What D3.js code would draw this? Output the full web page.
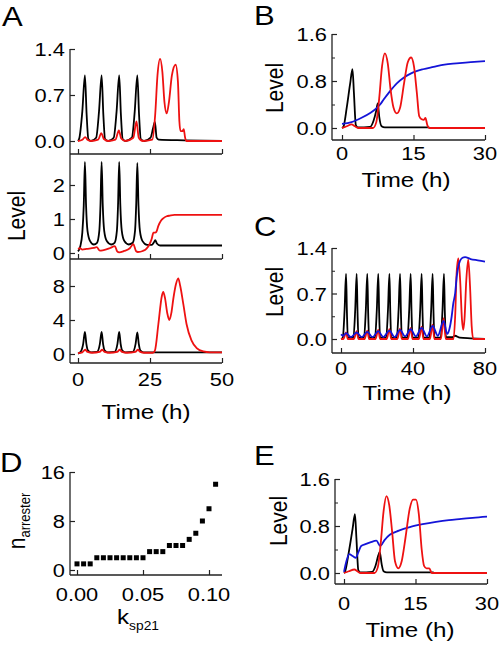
<!DOCTYPE html>
<html><head><meta charset="utf-8">
<script src="https://cdn.jsdelivr.net/npm/d3@7"></script>
<style>body{margin:0;background:#fff} text{font-family:"Liberation Sans",Arial,Helvetica,sans-serif;fill:#000}</style>
</head><body><svg id="c" width="500" height="646"></svg>
<script>
// ---------- DATA ----------
// Panel A (top): time (h), level
const A1_black = [[0,0],[0.5,0.05],[1.5,0.45],[2.4,1.0],[3.0,0.4],[3.6,0.03],[4.5,0],[6.3,0.05],[7.3,0.45],[8.2,1.0],[8.8,0.4],[9.4,0.03],[10.5,0],[12.4,0.05],[13.4,0.45],[14.3,1.0],[14.9,0.4],[15.5,0.03],[16.5,0],[18.7,0.05],[19.7,0.45],[20.6,1.0],[21.2,0.4],[21.8,0.03],[23,0],[25.2,0.05],[26.1,0.2],[26.7,0.29],[27.3,0.05],[28,0.02],[37,0.01],[50,0]];
const A1_red = [[0,0],[1.5,0.02],[2.5,0.06],[3.3,0.02],[4.5,0],[7,0.02],[8.1,0.12],[9,0.03],[10.5,0],[13,0.02],[14.2,0.16],[15,0.04],[16.5,0],[19.2,0.05],[20.3,0.3],[21.1,0.05],[22.5,0],[25.8,0.02],[26.8,0.4],[27.6,1.0],[28.5,1.25],[29.3,1.05],[30,0.6],[30.8,0.42],[31.6,0.6],[32.6,1.0],[33.9,1.16],[34.7,0.9],[35.2,0.3],[35.6,0.15],[36.3,0.15],[36.7,0.18],[37.2,0.05],[37.6,0],[50,0]];
// Panel A (middle)
const A2_black = [[0,0.05],[0.8,0.2],[1.5,0.6],[2.0,1.4],[2.4,2.68],[2.8,1.4],[3.3,0.65],[4.2,0.35],[5.5,0.25],[6.6,0.3],[7.4,0.65],[7.8,1.4],[8.2,2.68],[8.6,1.4],[9.1,0.65],[10,0.35],[11.5,0.25],[12.7,0.3],[13.5,0.65],[13.9,1.4],[14.3,2.68],[14.7,1.4],[15.2,0.65],[16.1,0.35],[17.6,0.25],[19,0.3],[19.8,0.65],[20.2,1.4],[20.6,2.65],[21,1.4],[21.5,0.65],[22.4,0.35],[24,0.24],[25.6,0.24],[26.4,0.32],[26.8,0.38],[27.4,0.28],[28.5,0.22],[50,0.22]];
const A2_red = [[0,0.12],[0.7,0.14],[1.5,0.1],[3,0.12],[5.5,0.15],[6.5,0.17],[7.6,0.07],[8.6,0.08],[11,0.14],[12.8,0.2],[13.6,0.05],[14.3,0.02],[16,0.06],[18,0.14],[19.2,0.26],[20.2,0.05],[20.8,0.03],[22.5,0.06],[23.8,0.13],[24.8,0.25],[25.6,0.42],[26.2,0.6],[26.8,0.6],[27.2,0.62],[27.9,0.8],[28.8,0.95],[29.6,1.02],[30.8,1.08],[31.9,1.1],[33.5,1.12],[35.4,1.12],[50,1.12]];
// Panel A (bottom)
const A3_black = [[0,0.05],[1,0.3],[1.8,1.2],[2.4,2.6],[2.9,1.2],[3.5,0.4],[4.5,0.2],[6.6,0.25],[7.6,1.2],[8.2,2.6],[8.7,1.2],[9.3,0.4],[10.3,0.2],[12.7,0.25],[13.7,1.2],[14.3,2.6],[14.8,1.2],[15.4,0.4],[16.4,0.2],[19,0.25],[20,1.2],[20.6,2.55],[21.1,1.2],[21.7,0.4],[22.7,0.2],[26,0.2],[50,0.2]];
const A3_red = [[0,0.1],[1.5,0.2],[2.5,0.5],[3.3,0.25],[5,0.15],[7.5,0.25],[8.4,0.5],[9.2,0.25],[11,0.15],[13.6,0.25],[14.5,0.5],[15.3,0.25],[17,0.15],[19.9,0.25],[20.8,0.5],[21.6,0.25],[23,0.15],[26,0.15],[26.7,0.4],[27.9,3.5],[29.1,6.8],[29.6,7.3],[30.2,6.6],[31,4.8],[31.7,4.0],[32.4,4.8],[33.1,6.5],[34,8.2],[34.8,8.9],[35.5,8.0],[36.6,5.8],[37.7,3.5],[39.4,1.6],[41.2,0.7],[43.5,0.3],[45.8,0.2],[50,0.2]];
// Panel B
const B_black = [[0,0],[0.3,0.02],[1.0,0.35],[1.7,0.75],[2.2,1.0],[2.5,0.6],[2.9,0.05],[3.3,0.01],[5.9,0.02],[6.6,0.12],[7.2,0.3],[7.5,0.42],[7.8,0.2],[8.3,0.03],[9,0.01],[18.2,0.01],[18.5,0],[30,0]];
const B_red = [[0,0],[1,0.03],[2,0.06],[2.7,0.03],[3.5,0],[6.5,0],[7.2,0.1],[7.8,0.5],[8.4,1.05],[9,1.27],[9.6,1.1],[10.2,0.65],[10.8,0.35],[11.5,0.25],[12.2,0.35],[13,0.75],[13.8,1.12],[14.5,1.2],[15.1,1.05],[15.7,0.6],[16.2,0.2],[16.7,0.15],[17.2,0.14],[17.5,0.17],[17.9,0.05],[18.3,0],[30,0]];
const B_blue = [[0,0.07],[2,0.1],[4,0.17],[6,0.26],[7,0.32],[8,0.4],[8.7,0.48],[10,0.62],[11.5,0.76],[13,0.86],[14.5,0.93],[17,1.0],[19.2,1.04],[21.5,1.08],[24,1.1],[27,1.12],[30,1.14]];
// Panel C
const C_black = [[0,0],[1.0,0.02],[2.0,0.45],[2.8,1.0],[3.3,0.4],[3.8,0.02],[6.9,0.02],[7.9,0.45],[8.7,1.0],[9.2,0.4],[9.7,0.02],[12.8,0.02],[13.8,0.45],[14.6,1.0],[15.1,0.4],[15.6,0.02],[18.9,0.02],[19.9,0.45],[20.7,1.0],[21.2,0.4],[21.7,0.02],[25.1,0.02],[26.1,0.45],[26.9,1.0],[27.4,0.4],[27.9,0.02],[31,0.02],[32,0.45],[32.8,1.0],[33.3,0.4],[33.8,0.02],[36.9,0.02],[37.9,0.45],[38.7,1.0],[39.2,0.4],[39.7,0.02],[43,0.02],[44,0.45],[44.8,1.0],[45.3,0.4],[45.8,0.02],[49.1,0.02],[50.1,0.45],[50.9,1.0],[51.4,0.4],[51.9,0.02],[55.4,0.02],[56.4,0.45],[57.2,1.0],[57.7,0.4],[58.3,0.03],[62,0.03],[63.3,0.05],[66,0.02],[72,0.01],[80,0]];
const C_red = [[0,0],[1.3,0],[2.8,0.1],[3.8,0],[7.2,0],[8.7,0.12],[9.7,0],[13.1,0],[14.6,0.13],[15.6,0],[19.2,0],[20.7,0.14],[21.7,0],[25.4,0],[26.9,0.15],[27.9,0],[31.3,0],[32.8,0.16],[33.8,0],[37.2,0],[38.7,0.17],[39.7,0],[43.3,0],[44.8,0.19],[45.8,0],[49.4,0],[50.9,0.22],[51.9,0],[55.5,0],[57,0.32],[58.2,0],[62.5,0],[63.5,0.4],[64.2,1.0],[65.2,1.24],[66.2,0.9],[67.2,0.3],[67.9,0.14],[68.6,0.3],[69.6,0.9],[70.7,1.22],[71.7,0.8],[72.6,0.2],[73.5,0],[80,0]];
const C_blue = [[0,0.07],[1.2,0.05],[2.8,0.09],[5.5,0.03],[8.7,0.1],[11.5,0.03],[14.6,0.11],[17.5,0.03],[20.7,0.12],[23.5,0.03],[26.9,0.13],[29.8,0.03],[32.8,0.14],[35.6,0.04],[38.7,0.15],[41.6,0.04],[44.8,0.17],[47.7,0.04],[50.9,0.2],[53.8,0.05],[57,0.28],[59,0.08],[60.2,0.15],[61.5,0.35],[62.4,0.55],[63.4,0.7],[64.3,0.96],[65.2,1.12],[66.1,1.2],[67.5,1.25],[68.9,1.26],[72,1.23],[76,1.21],[80,1.19]];
// Panel D
const D_k = [0,0.005,0.01,0.015,0.02,0.025,0.03,0.035,0.04,0.045,0.05,0.055,0.06,0.065,0.07,0.075,0.08,0.085,0.09,0.095,0.1,0.105];
const D_n = [1,1,1,2,2,2,2,2,2,2,2,3,3,3,4,4,4,5,6,8,10,14];
// Panel E
const E_black = [[0,0],[0.2,0.02],[1.0,0.35],[1.8,0.75],[2.3,1.0],[2.6,0.6],[3.0,0.05],[3.4,0.01],[5.9,0.02],[6.6,0.12],[7.2,0.3],[7.5,0.36],[7.9,0.15],[8.3,0.03],[9,0.01],[18.7,0.01],[19,0],[30,0]];
const E_red = [[0,0],[1,0.03],[2.2,0.06],[2.8,0.03],[3.5,0],[6.4,0],[7.1,0.1],[7.7,0.5],[8.3,1.05],[8.9,1.31],[9.5,1.15],[10.1,0.7],[10.7,0.2],[11.4,0.08],[12.1,0.2],[12.9,0.6],[13.8,1.1],[14.5,1.25],[15.1,1.25],[15.7,1.0],[16.3,0.4],[16.8,0.12],[17.3,0.08],[17.9,0.08],[18.4,0],[30,0]];
const E_blue = [[0,0.02],[0.5,0.2],[1.1,0.32],[1.8,0.29],[2.5,0.26],[3.0,0.35],[3.6,0.46],[4.5,0.49],[5.5,0.52],[6.8,0.55],[7.6,0.46],[8.5,0.56],[9.6,0.65],[11.5,0.72],[13.8,0.78],[16.5,0.83],[19.3,0.87],[22,0.9],[24.6,0.92],[27,0.94],[30,0.96]];

// tick labels
const A1_yticks = [0, 0.7, 1.4];
const A2_yticks = [0, 1, 2];
const A3_yticks = [0, 4, 8];
const A_xticks = [0, 25, 50];
const B_yticks = [0, 0.8, 1.6];
const B_xticks = [0, 15, 30];
const C_yticks = [0, 0.7, 1.4];
const C_xticks = [0, 40, 80];
const D_yticks = [0, 8, 16];
const D_xticks = [0, 0.05, 0.10];
const E_yticks = [0, 0.8, 1.6];
const E_xticks = [0, 15, 30];

// ---------- DRAWING ----------
const SX = 1.15;
const COL = {black:'#000', red:'#ee1111', blue:'#1414d8'};
const svg = d3.select('#c');

function txt(x, y, s, size, anchor, rot) {
  return svg.append('text')
    .attr('transform', `translate(${x},${y}) scale(${SX},1)` + (rot ? ` rotate(${rot})` : ''))
    .attr('text-anchor', anchor || 'middle').attr('font-size', size).text(s);
}

function panel(o) {
  const x = d3.scaleLinear().domain(o.xd).range([o.xr0, o.xr1]);
  const y = d3.scaleLinear().domain([0, o.ymax]).range([o.y0, o.ytop]);
  const g = svg.append('g');
  const ac = '#222';
  // axis lines
  g.append('line').attr('x1', o.ax).attr('x2', o.ax).attr('y1', o.axTop).attr('y2', o.axBot).attr('stroke', ac).attr('stroke-width', 1.3);
  g.append('line').attr('x1', o.ax).attr('x2', o.xEnd).attr('y1', o.axBot).attr('y2', o.axBot).attr('stroke', ac).attr('stroke-width', 1.3);
  // y ticks (inward)
  const ya = g.append('g').attr('transform', `translate(${o.ax},0)`)
    .call(d3.axisRight(y).tickValues(o.yticks).tickSize(5).tickFormat(''));
  ya.select('.domain').remove();
  ya.selectAll('line').attr('stroke', ac).attr('stroke-width', 1.2);
  if (o.yminor) {
    const ym = g.append('g').attr('transform', `translate(${o.ax},0)`)
      .call(d3.axisRight(y).tickValues(o.yminor).tickSize(3).tickFormat(''));
    ym.select('.domain').remove();
    ym.selectAll('line').attr('stroke', ac).attr('stroke-width', 1);
  }
  // x ticks (inward)
  const xa = g.append('g').attr('transform', `translate(0,${o.axBot})`)
    .call(d3.axisTop(x).tickValues(o.xticks).tickSize(5).tickFormat(''));
  xa.select('.domain').remove();
  xa.selectAll('line').attr('stroke', ac).attr('stroke-width', 1.2);
  // labels
  o.yticks.forEach(v => txt(o.ax - 5, y(v) + 7, o.yfmt(v), 19, 'end'));
  if (o.xlab) o.xticks.forEach(v => txt(x(v), o.xlabY, o.xfmt(v), 19, 'middle'));
  // series
  const line = d3.line().x(d => x(d[0])).y(d => y(d[1])).curve(d3.curveMonotoneX);
  (o.series || []).forEach(s => {
    g.append('path').datum(s.data).attr('d', line).attr('fill', 'none')
      .attr('stroke', COL[s.c]).attr('stroke-width', 1.8).attr('stroke-linejoin', 'round');
  });
  return {x, y, g};
}

const f1 = d3.format('.1f'), f0 = d3.format('d'), f2 = d3.format('.2f');

// Panel A
panel({xd:[0,50], xr0:78, xr1:222, ax:70, xEnd:222, ymax:1.4, y0:141, ytop:49, axTop:49, axBot:154,
  yticks:A1_yticks, xticks:A_xticks, yfmt:f1, xlab:false,
  series:[{data:A1_black,c:'black'},{data:A1_red,c:'red'}]});
panel({xd:[0,50], xr0:78, xr1:222, ax:70, xEnd:222, ymax:2, y0:253, ytop:185, axTop:154, axBot:259,
  yticks:A2_yticks, xticks:A_xticks, yfmt:f0, xlab:false,
  series:[{data:A2_black,c:'black'},{data:A2_red,c:'red'}]});
panel({xd:[0,50], xr0:78, xr1:222, ax:70, xEnd:222, ymax:8, y0:354, ytop:286, axTop:259, axBot:363,
  yticks:A3_yticks, xticks:A_xticks, yfmt:f0, xlab:true, xlabY:386, xfmt:f0,
  series:[{data:A3_black,c:'black'},{data:A3_red,c:'red'}]});
txt(146, 419, 'Time (h)', 21, 'middle');
txt(25, 216, 'Level', 21, 'middle', -90);
txt(2, 26, 'A', 27, 'start');

// Panel B
panel({xd:[0,30], xr0:342, xr1:485, ax:332, xEnd:485, ymax:1.6, y0:128, ytop:34, axTop:34, axBot:140,
  yticks:B_yticks, yminor:[0.4,1.2], xticks:B_xticks, yfmt:f1, xlab:true, xlabY:160, xfmt:f0,
  series:[{data:B_black,c:'black'},{data:B_blue,c:'blue'},{data:B_red,c:'red'}]});
txt(406, 187, 'Time (h)', 21, 'middle');
txt(283, 88, 'Level', 21, 'middle', -90);
txt(254, 25, 'B', 27, 'start');

// Panel C
panel({xd:[0,80], xr0:341, xr1:485, ax:332, xEnd:485, ymax:1.4, y0:339, ytop:248, axTop:248, axBot:353,
  yticks:C_yticks, yminor:[0.35,1.05], xticks:C_xticks, yfmt:f1, xlab:true, xlabY:375, xfmt:f0,
  series:[{data:C_black,c:'black'},{data:C_red,c:'red'},{data:C_blue,c:'blue'}]});
txt(407, 400, 'Time (h)', 21, 'middle');
txt(283, 292, 'Level', 21, 'middle', -90);
txt(254, 236, 'C', 27, 'start');

// Panel D
const pD = panel({xd:[0,0.1], xr0:77, xr1:209, ax:70, xEnd:222, ymax:16, y0:570, ytop:472, axTop:472, axBot:575,
  yticks:D_yticks, xticks:D_xticks, yfmt:f0, xlab:true, xlabY:601, xfmt:f2, series:[]});
pD.g.selectAll('rect.pt').data(D_k.map((k,i)=>[k, D_n[i]])).enter().append('rect')
  .attr('class','pt').attr('x', d => pD.x(d[0]) - 2.5).attr('y', d => pD.y(d[1]) - 2.5)
  .attr('width', 5).attr('height', 5).attr('fill', '#000');
const nt = svg.append('text').attr('transform', `translate(25,521) scale(${SX},1) rotate(-90)`).attr('text-anchor','middle').attr('font-size', 21);
nt.append('tspan').text('n');
nt.append('tspan').attr('font-size', 13).attr('dy', 4).text('arrester');
const kt = svg.append('text').attr('transform', `translate(138,624) scale(${SX},1)`).attr('text-anchor','middle').attr('font-size', 21);
kt.append('tspan').text('k');
kt.append('tspan').attr('font-size', 12).attr('dy', 6).text('sp21');
txt(0, 472, 'D', 27, 'start');

// Panel E
panel({xd:[0,30], xr0:344, xr1:487, ax:335, xEnd:487, ymax:1.6, y0:573, ytop:479, axTop:479, axBot:584,
  yticks:E_yticks, yminor:[0.4,1.2], xticks:E_xticks, yfmt:f1, xlab:true, xlabY:610, xfmt:f0,
  series:[{data:E_black,c:'black'},{data:E_blue,c:'blue'},{data:E_red,c:'red'}]});
txt(410, 637, 'Time (h)', 21, 'middle');
txt(287, 521, 'Level', 21, 'middle', -90);
txt(254, 465, 'E', 27, 'start');
</script></body></html>
